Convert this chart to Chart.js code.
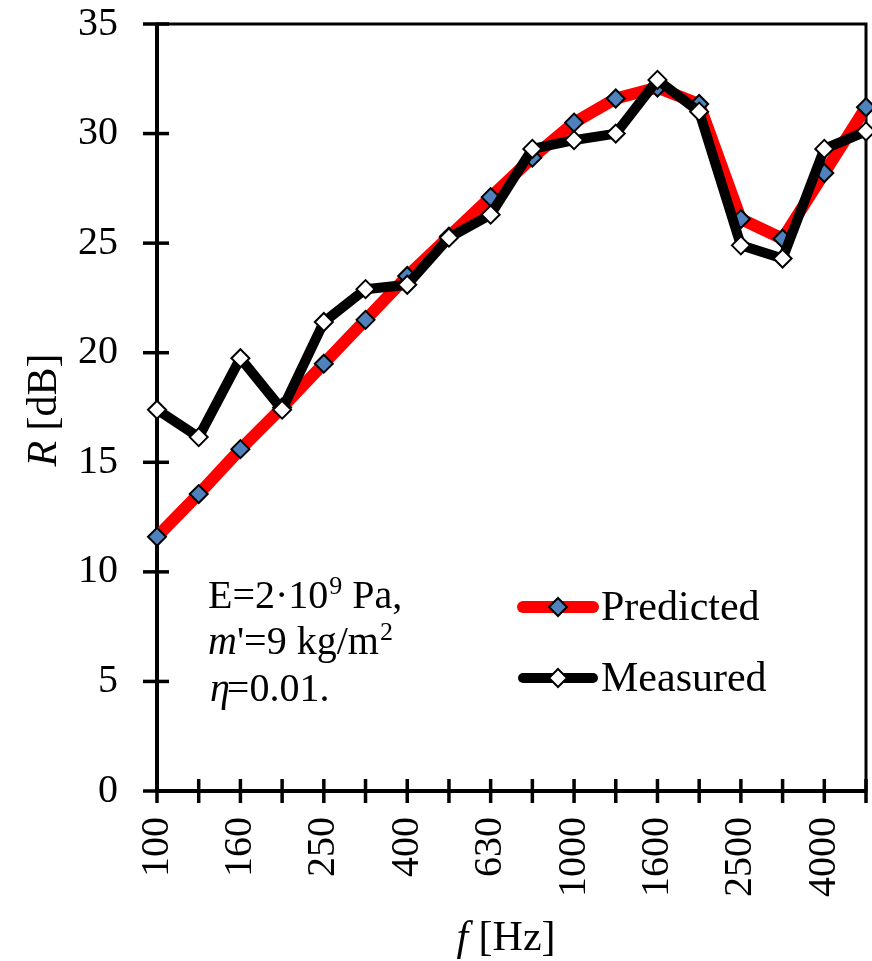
<!DOCTYPE html>
<html>
<head>
<meta charset="utf-8">
<script src="https://cdn.jsdelivr.net/npm/chart.js@4.4.0/dist/chart.umd.min.js"></script>
<style>
  body { margin: 0; background: #fff; }
  canvas { display: block; }
</style>
</head>
<body>
<canvas id="chart" width="872" height="961"></canvas>
<script>
// Dati (bande di terzo d'ottava)
const frequencies = ['100', '125', '160', '200', '250', '315', '400', '500', '630', '800',
                     '1000', '1250', '1600', '2000', '2500', '3150', '4000', '5000'];
const predicted = [11.6, 13.55, 15.6, 17.5, 19.5, 21.5, 23.5, 25.3, 27.1, 28.9,
                   30.5, 31.6, 32.1, 31.35, 26.1, 25.2, 28.2, 31.2];
const measured = [17.4, 16.15, 19.75, 17.4, 21.4, 22.9, 23.1, 25.25, 26.3, 29.3,
                  29.7, 30.0, 32.45, 31.0, 24.9, 24.3, 29.3, 30.1];
const yTicks = [0, 5, 10, 15, 20, 25, 30, 35];

const SERIF = "'Liberation Serif', 'Times New Roman', serif";

// Assi, tacche e cornice disegnati sotto le serie
const axesPlugin = {
    id: 'axes',
    beforeDatasetsDraw(chart) {
        const { ctx, chartArea: a, scales: { x, y } } = chart;
        ctx.save();
        ctx.strokeStyle = '#000';
        ctx.lineWidth = 3;
        ctx.strokeRect(a.left, a.top, a.right - a.left, a.bottom - a.top);
        ctx.lineWidth = 4;
        ctx.beginPath();
        ctx.moveTo(a.left, a.top - 1);
        ctx.lineTo(a.left, a.bottom);
        ctx.lineTo(a.right, a.bottom);
        ctx.stroke();
        ctx.lineWidth = 3.5;
        y.ticks.forEach((t, i) => {
            const py = y.getPixelForTick(i);
            ctx.beginPath();
            ctx.moveTo(a.left - 14, py);
            ctx.lineTo(a.left + 12, py);
            ctx.stroke();
        });
        x.ticks.forEach((t, i) => {
            const px = x.getPixelForTick(i);
            ctx.beginPath();
            ctx.moveTo(px, a.bottom - 12);
            ctx.lineTo(px, a.bottom + 12);
            ctx.stroke();
        });
        ctx.restore();
    }
};

// Legenda, testo e titoli degli assi
const textPlugin = {
    id: 'texts',
    afterDraw(chart) {
        const ctx = chart.ctx;
        ctx.save();
        ctx.fillStyle = '#000';
        ctx.textBaseline = 'alphabetic';
        ctx.textAlign = 'left';

        // Legenda
        const legendItems = [
            { label: 'Predicted', y: 607, color: '#ff0000', width: 12, fill: '#4f81bd' },
            { label: 'Measured', y: 678, color: '#000000', width: 10, fill: '#ffffff' }
        ];
        legendItems.forEach(item => {
            ctx.strokeStyle = item.color;
            ctx.lineWidth = item.width;
            ctx.lineCap = 'round';
            ctx.beginPath();
            ctx.moveTo(523, item.y);
            ctx.lineTo(593, item.y);
            ctx.stroke();
            ctx.beginPath();
            ctx.moveTo(558, item.y - 9);
            ctx.lineTo(567, item.y);
            ctx.lineTo(558, item.y + 9);
            ctx.lineTo(549, item.y);
            ctx.closePath();
            ctx.fillStyle = item.fill;
            ctx.fill();
            ctx.lineWidth = 2;
            ctx.lineCap = 'butt';
            ctx.strokeStyle = '#000';
            ctx.stroke();
            ctx.fillStyle = '#000';
            ctx.font = '42px ' + SERIF;
            ctx.textBaseline = 'middle';
            ctx.fillText(item.label, 601, item.y + 2);
        });
        ctx.textBaseline = 'alphabetic';

        // Annotazione
        let xx = 208;
        ctx.font = '40px ' + SERIF;
        ctx.fillText('E=2\u00b710', xx, 608);
        xx += ctx.measureText('E=2\u00b710').width;
        ctx.font = '26px ' + SERIF;
        ctx.fillText('9', xx + 1, 594);
        xx += ctx.measureText('9').width + 1;
        ctx.font = '40px ' + SERIF;
        ctx.fillText(' Pa,', xx, 608);

        xx = 208;
        ctx.font = 'italic 40px ' + SERIF;
        ctx.fillText('m', xx, 654);
        xx += ctx.measureText('m').width;
        ctx.font = '40px ' + SERIF;
        ctx.fillText("'=9 kg/m", xx, 654);
        xx += ctx.measureText("'=9 kg/m").width;
        ctx.font = '26px ' + SERIF;
        ctx.fillText('2', xx + 1, 640);

        xx = 210;
        ctx.font = 'italic 40px ' + SERIF;
        ctx.fillText('\u03b7', xx, 701);
        xx += ctx.measureText('\u03b7').width - 3;
        ctx.font = '40px ' + SERIF;
        ctx.fillText('=0.01.', xx, 701);

        // Titolo asse X
        ctx.font = 'italic 42px ' + SERIF;
        const wf = ctx.measureText('f').width;
        ctx.font = '42px ' + SERIF;
        const wHz = ctx.measureText(' [Hz]').width;
        let sx = 506 - (wf + wHz) / 2;
        ctx.font = 'italic 42px ' + SERIF;
        ctx.fillText('f', sx, 950);
        ctx.font = '42px ' + SERIF;
        ctx.fillText(' [Hz]', sx + wf, 950);

        // Titolo asse Y
        ctx.translate(45, 410);
        ctx.rotate(-Math.PI / 2);
        ctx.textBaseline = 'middle';
        ctx.font = 'italic 42px ' + SERIF;
        const wR = ctx.measureText('R').width;
        ctx.font = '42px ' + SERIF;
        const wdB = ctx.measureText(' [dB]').width;
        sx = -(wR + wdB) / 2;
        ctx.font = 'italic 42px ' + SERIF;
        ctx.fillText('R', sx, 0);
        ctx.font = '42px ' + SERIF;
        ctx.fillText(' [dB]', sx + wR, 0);
        ctx.restore();
    }
};

const ctx = document.getElementById('chart').getContext('2d');
new Chart(ctx, {
    type: 'line',
    data: {
        labels: frequencies,
        datasets: [
            {
                label: 'Measured',
                data: measured,
                order: 0,
                borderColor: '#000000',
                borderWidth: 10,
                backgroundColor: '#ffffff',
                pointStyle: 'rectRot',
                pointRadius: 9,
                pointBorderWidth: 2,
                pointBorderColor: '#000000',
                pointBackgroundColor: '#ffffff',
                borderJoinStyle: 'round',
                borderCapStyle: 'round',
                tension: 0,
                clip: false
            },
            {
                label: 'Predicted',
                data: predicted,
                order: 1,
                borderColor: '#ff0000',
                borderWidth: 12,
                backgroundColor: '#4f81bd',
                pointStyle: 'rectRot',
                pointRadius: 9,
                pointBorderWidth: 2,
                pointBorderColor: '#000000',
                pointBackgroundColor: '#4f81bd',
                borderJoinStyle: 'round',
                borderCapStyle: 'round',
                tension: 0,
                clip: false
            }
        ]
    },
    options: {
        responsive: false,
        animation: false,
        devicePixelRatio: 1,
        layout: { autoPadding: false, padding: { top: 24, right: 6, left: 0, bottom: 0 } },
        plugins: {
            legend: { display: false },
            tooltip: { enabled: false }
        },
        scales: {
            x: {
                type: 'category',
                offset: false,
                grid: { display: false, drawTicks: false },
                border: { display: false },
                ticks: {
                    autoSkip: false,
                    minRotation: 90,
                    maxRotation: 90,
                    padding: 26,
                    color: '#000',
                    font: { family: SERIF, size: 40 },
                    callback: (value, index) => index % 2 === 0 ? frequencies[index] : ''
                },
                afterFit: (scale) => {
                    scale.height = 170;
                    scale.paddingLeft = 0;
                    scale.paddingRight = 0;
                }
            },
            y: {
                min: yTicks[0],
                max: yTicks[yTicks.length - 1],
                grid: { display: false, drawTicks: false },
                border: { display: false },
                afterBuildTicks: (scale) => {
                    scale.ticks = yTicks.map(v => ({ value: v }));
                },
                ticks: {
                    padding: 39,
                    color: '#000',
                    font: { family: SERIF, size: 40 }
                },
                afterFit: (scale) => {
                    scale.width = 157;
                    scale.paddingTop = 0;
                    scale.paddingBottom = 0;
                }
            }
        }
    },
    plugins: [axesPlugin, textPlugin]
});
</script>
</body>
</html>
